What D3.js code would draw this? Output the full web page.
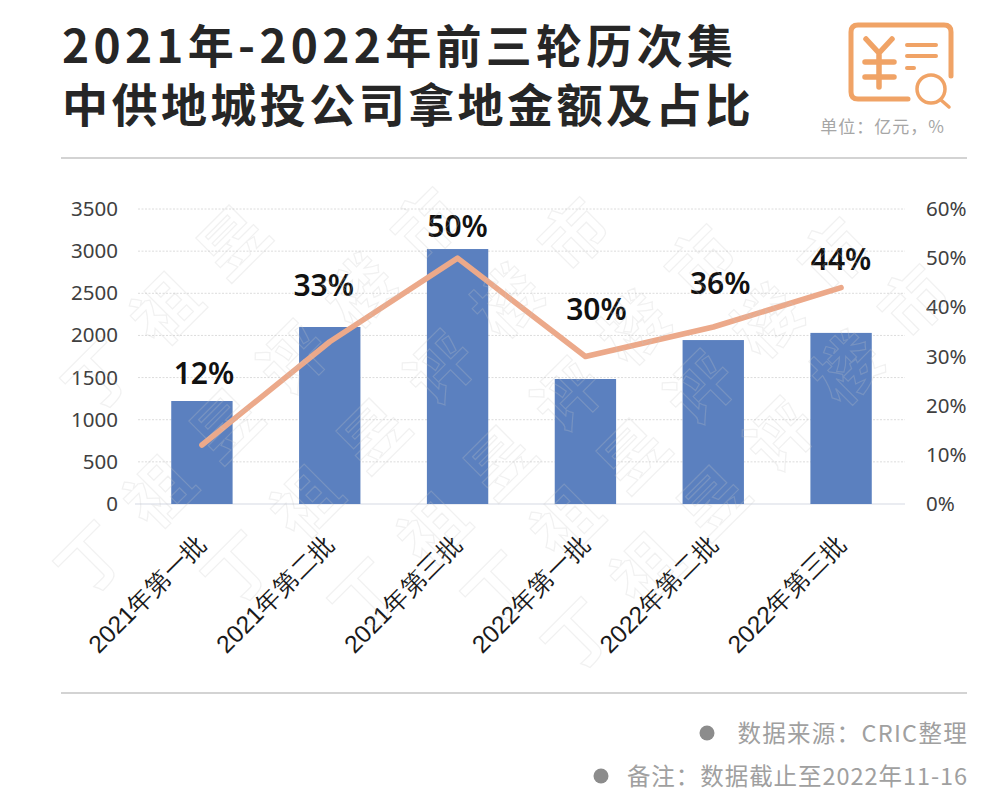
<!DOCTYPE html>
<html>
<head>
<meta charset="utf-8">
<script src="https://cdn.jsdelivr.net/npm/d3@7"></script>
<style>
html, body { margin: 0; padding: 0; background: #fff; }
svg { display: block; font-family: "Noto Sans CJK SC", "Noto Sans", sans-serif; }
</style>
</head>
<body>
<div id="chart-area"></div>
<script>
const categories = ['2021年第一批', '2021年第二批', '2021年第三批', '2022年第一批', '2022年第二批', '2022年第三批']
const amounts = [1222, 2100, 3025, 1483, 1945, 2030]
const shares = [12, 33, 50, 30, 36, 44]
const amountTicks = [0, 500, 1000, 1500, 2000, 2500, 3000, 3500]
const shareTicks = [0, 10, 20, 30, 40, 50, 60]
const titleLines = ['2021年-2022年前三轮历次集', '中供地城投公司拿地金额及占比']
const notes = ['数据来源：CRIC整理', '备注：数据截止至2022年11-16']
const watermarkChars = ['丁', '祖', '昱', '评', '楼', '市']

const MARGIN = { LEFT: 138, RIGHT: 95, TOP: 209, BOTTOM: 301 }
const WIDTH = 1000
const HEIGHT = 805

const svg = d3.select('#chart-area')
    .append('svg')
    .attr('width', WIDTH)
    .attr('height', HEIGHT)
    .attr('viewBox', [0, 0, WIDTH, HEIGHT])

// header
const titleSpacing = [4.3, 3.45]
svg.append('g').selectAll('text')
    .data(titleLines)
    .enter()
    .append('text')
    .attr('x', 62)
    .attr('y', (d, i) => 63 + i * 59)
    .attr('font-size', 46)
    .attr('font-weight', 700)
    .attr('letter-spacing', (d, i) => titleSpacing[i])
    .attr('fill', '#262626')
    .text(d => d)

// icon
const icon = svg.append('g')
    .attr('fill', 'none')
    .attr('stroke', '#f0a366')
    .attr('stroke-linecap', 'round')
icon.append('path').attr('stroke-width', 5)
    .attr('d', 'M908,99 H858 Q851,99 851,92 V32 Q851,25 858,25 H944 Q951,25 951,32 V76')
icon.append('path').attr('stroke-width', 5.5)
    .attr('d', 'M866,39 L879,53 L892,39 M879,53 V87 M865,62 H894 M865,77 H894')
icon.append('path').attr('stroke-width', 4)
    .attr('d', 'M907,45 H936 M907,56 H936 M907,68 H914')
icon.append('circle').attr('stroke-width', 3.5).attr('cx', 931).attr('cy', 89).attr('r', 14)
icon.append('path').attr('stroke-width', 3.5).attr('d', 'M941,100 L949,107')

svg.append('text')
    .attr('x', 945)
    .attr('y', 133)
    .attr('text-anchor', 'end')
    .attr('font-size', 17)
    .attr('letter-spacing', 1)
    .attr('fill', '#a6a6a6')
    .text('单位：亿元，%')

svg.append('g').selectAll('line')
    .data([158, 693])
    .enter()
    .append('line')
    .attr('x1', 61)
    .attr('x2', 967)
    .attr('y1', d => d)
    .attr('y2', d => d)
    .attr('stroke', '#c4c4c4')
    .attr('stroke-width', 1.5)

// scales
const x = d3.scaleBand()
    .domain(categories)
    .range([MARGIN.LEFT, WIDTH - MARGIN.RIGHT])
    .paddingInner(0.52)
    .paddingOuter(0.26)
const y = d3.scaleLinear()
    .domain([0, 3500])
    .range([HEIGHT - MARGIN.BOTTOM, MARGIN.TOP])
const yShare = d3.scaleLinear()
    .domain([0, 60])
    .range([HEIGHT - MARGIN.BOTTOM, MARGIN.TOP])

// gridlines
svg.append('g').selectAll('line')
    .data(amountTicks.slice(1))
    .enter()
    .append('line')
    .attr('x1', MARGIN.LEFT)
    .attr('x2', WIDTH - MARGIN.RIGHT)
    .attr('y1', d => y(d))
    .attr('y2', d => y(d))
    .attr('stroke', '#dcdcdc')
    .attr('stroke-dasharray', '2 1.5')

svg.append('line')
    .attr('x1', 135)
    .attr('x2', WIDTH - MARGIN.RIGHT)
    .attr('y1', y(0))
    .attr('y2', y(0))
    .attr('stroke', '#e3e6ec')
    .attr('stroke-width', 1.5)

// axes
const leftAxis = svg.append('g')
    .attr('transform', 'translate(118, 0)')
    .call(d3.axisLeft(y).tickValues(amountTicks).tickSize(0).tickPadding(0).tickFormat(d3.format('d')))
const rightAxis = svg.append('g')
    .attr('transform', 'translate(926, 0)')
    .call(d3.axisRight(yShare).tickValues(shareTicks).tickSize(0).tickPadding(0).tickFormat(d => d + '%'))
const bottomAxis = svg.append('g')
    .attr('transform', `translate(0, ${y(0)})`)
    .call(d3.axisBottom(x).tickSize(0))
;[leftAxis, rightAxis, bottomAxis].forEach(a => a.select('.domain').remove())
;[leftAxis, rightAxis].forEach(a => a.selectAll('text')
    .attr('font-family', '"Noto Sans", sans-serif')
    .attr('font-size', 20.5)
    .attr('fill', '#404040'))
bottomAxis.selectAll('text')
    .attr('font-size', 24.5)
    .attr('fill', '#1a1a1a')
    .attr('text-anchor', 'end')
    .attr('dy', 0)
    .attr('transform', 'translate(4, 39) rotate(-45)')

// bars
svg.append('g').selectAll('rect')
    .data(categories)
    .enter()
    .append('rect')
    .attr('x', d => x(d))
    .attr('width', x.bandwidth())
    .attr('y', (d, i) => y(amounts[i]))
    .attr('height', (d, i) => y(0) - y(amounts[i]))
    .attr('fill', '#5b80bf')

// share line
const line = d3.line()
    .x((d, i) => x(categories[i]) + x.bandwidth() / 2)
    .y(d => yShare(d))
svg.append('path')
    .datum(shares)
    .attr('d', line)
    .attr('fill', 'none')
    .attr('stroke', '#eca98a')
    .attr('stroke-width', 5.5)
    .attr('stroke-linecap', 'round')
    .attr('stroke-linejoin', 'round')

// share labels, nudged by hand off the line like the original
const labelLift = [61, 46, 21, 37, 33, 18]
const labelShift = [2, -6, 0, 11, 7, 0]
svg.append('g').selectAll('text')
    .data(shares)
    .enter()
    .append('text')
    .attr('x', (d, i) => x(categories[i]) + x.bandwidth() / 2 + labelShift[i])
    .attr('y', (d, i) => yShare(d) - labelLift[i])
    .attr('text-anchor', 'middle')
    .attr('font-family', '"Noto Sans", sans-serif')
    .attr('font-size', 30)
    .attr('font-weight', 600)
    .attr('fill', '#111')
    .text(d => d + '%')

// footer
const noteDots = [707, 601]
const noteY = [742, 785]
const noteSpacing = [1.3, 0.95]
notes.forEach((n, i) => {
    svg.append('circle')
        .attr('cx', noteDots[i])
        .attr('cy', noteY[i] - 9)
        .attr('r', 7.5)
        .attr('fill', '#8c8c8c')
    svg.append('text')
        .attr('x', 968)
        .attr('y', noteY[i])
        .attr('text-anchor', 'end')
        .attr('font-size', 23.5)
        .attr('letter-spacing', noteSpacing[i])
        .attr('fill', '#a0a0a0')
        .text(n)
})

// watermark: outlined characters running up-right over the plot
const rowStarts = [[100, 377], [93, 560], [240, 570], [367, 597], [500, 590], [580, 637]]
const marks = svg.append('g')
    .attr('fill', 'none')
    .attr('stroke', '#c8c8c8')
    .attr('stroke-opacity', 0.25)
    .attr('stroke-width', 1.2)
    .attr('font-size', 66)
    .attr('font-weight', 700)
    .attr('text-anchor', 'middle')
rowStarts.forEach(([sx, sy], r) => {
    watermarkChars.forEach((c, i) => {
        const cx = sx + i * 67
        const cy = sy - i * 67
        if (cy < 180) return
        marks.append('text')
            .attr('transform', `translate(${cx}, ${cy}) rotate(-45)`)
            .attr('dy', '0.35em')
            .text(c)
    })
})
</script>
</body>
</html>
